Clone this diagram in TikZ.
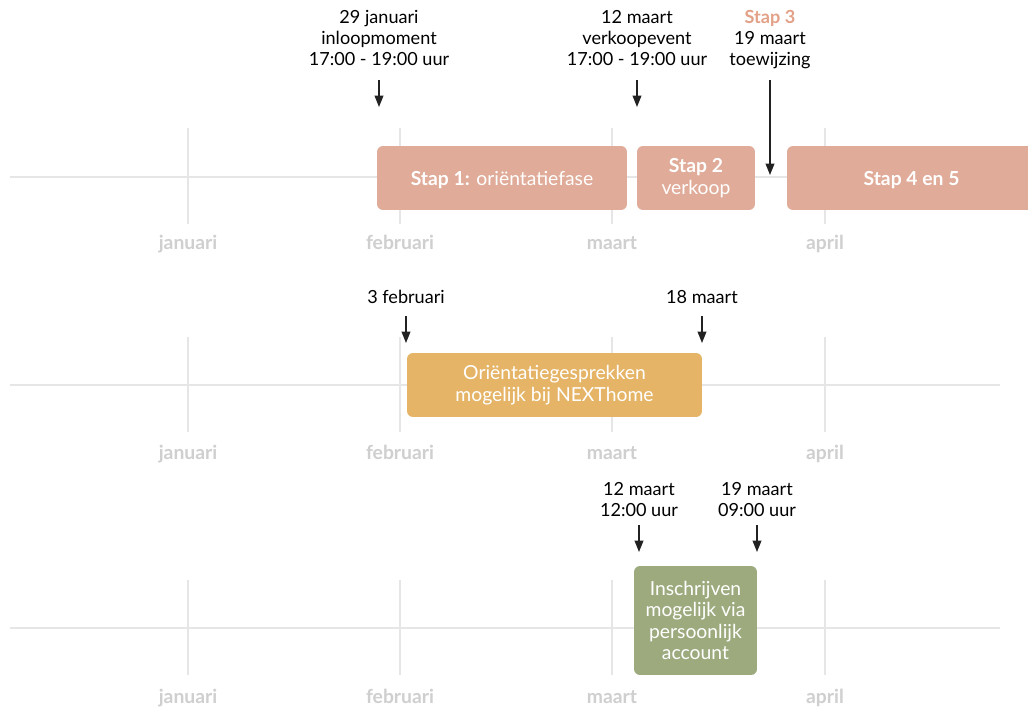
\documentclass[tikz,border=0pt]{standalone}
\usepackage{fontspec}
\setmainfont{Lato}
\usetikzlibrary{arrows.meta}
\definecolor{stapkleur}{HTML}{E0AB98}
\definecolor{stapdonker}{HTML}{E3A188}
\definecolor{gesprekkleur}{HTML}{E5B466}
\definecolor{inschrijfkleur}{HTML}{9DAA7E}
\definecolor{rasterkleur}{HTML}{E6E6E6}
\definecolor{maandkleur}{HTML}{CFCFCF}
\definecolor{pijlkleur}{HTML}{222222}

\begin{document}
\begin{tikzpicture}[x=0.02cm,y=-0.02cm,
	raster/.style={draw=rasterkleur,line width=1.6pt},
	maand/.style={anchor=base,text=maandkleur,font=\bfseries\fontsize{11}{12}\selectfont},
	datum/.style={align=center,inner sep=0pt,font=\fontsize{10.3}{12}\selectfont},
	blok/.style={fill=#1,rounded corners=3.4pt,text=white,align=center,inner sep=0pt,font=\fontsize{11}{12.3}\selectfont},
	pijl/.style={draw=pijlkleur,line width=0.8pt,-{Triangle[length=6.5pt,width=5pt]}}]
		\clip (0,0) rectangle (1028,710);
		\fill[white] (0,0) rectangle (1028,710);
		\foreach \r/\y/\a/\b/\l/\e in {1/177/128/224/249/1028,2/385/337/432/459/1000,3/628/580/675/703/1000}{
			\draw[raster] (10,\y) -- (\e,\y);
			\foreach \m/\x in {januari/188,februari/400,maart/612,april/825}{
				\draw[raster] (\x,\a) -- (\x,\b);
				\path (\x,\l) node[maand] (\m-\r) {\m};
			}
		}
		\node[blok=stapkleur,minimum width=5cm,minimum height=1.28cm,text depth=0pt] (stap1) at (502,178) {\textbf{Stap 1:} oriëntatiefase};
		\node[blok=stapkleur,minimum width=2.36cm,minimum height=1.28cm] (stap2) at (696,178) {\textbf{Stap 2}\\verkoop};
		\node[blok=stapkleur,minimum width=4.98cm,minimum height=1.28cm,text depth=0pt] (stap45) at (911.5,178) {\textbf{Stap 4 en 5}};
		\node[blok=gesprekkleur,minimum width=5.9cm,minimum height=1.28cm] (gesprek) at (554.5,385) {Oriëntatiegesprekken\\mogelijk bij NEXThome};
		\node[blok=inschrijfkleur,minimum width=2.46cm,minimum height=2.18cm] (inschrijf) at (695.5,620.5) {Inschrijven\\mogelijk via\\persoonlijk\\account};
		\node[datum,anchor=north] (inloop) at (379,10) {29 januari\\inloopmoment\\17:00 - 19:00 uur};
		\node[datum,anchor=north] (verkoop) at (637,10) {12 maart\\verkoopevent\\17:00 - 19:00 uur};
		\node[datum,anchor=north] (toewijs) at (770,10) {\textcolor{stapdonker}{\textbf{Stap 3}}\\19 maart\\toewijzing};
		\node[datum,anchor=north] (gstart) at (406,290) {3 februari};
		\node[datum,anchor=north] (geind) at (702,290) {18 maart};
		\node[datum,anchor=north] (istart) at (639,482) {12 maart\\12:00 uur};
		\node[datum,anchor=north] (ieind) at (757,482) {19 maart\\09:00 uur};
		\coordinate (inloop-p) at (379,107);
		\coordinate (verkoop-p) at (637,107);
		\coordinate (toewijs-p) at (770,175);
		\coordinate (gstart-p) at (406,343);
		\coordinate (geind-p) at (702,343);
		\coordinate (istart-p) at (639,552);
		\coordinate (ieind-p) at (757,552);
		\draw[pijl] (inloop-p |- 0,80) -- (inloop-p);
		\draw[pijl] (verkoop-p |- 0,80) -- (verkoop-p);
		\draw[pijl] (toewijs-p |- 0,80) -- (toewijs-p);
		\draw[pijl] (gstart-p |- 0,316) -- (gstart-p);
		\draw[pijl] (geind-p |- 0,316) -- (geind-p);
		\draw[pijl] (istart-p |- 0,525) -- (istart-p);
		\draw[pijl] (ieind-p |- 0,525) -- (ieind-p);
\end{tikzpicture}
\end{document}
